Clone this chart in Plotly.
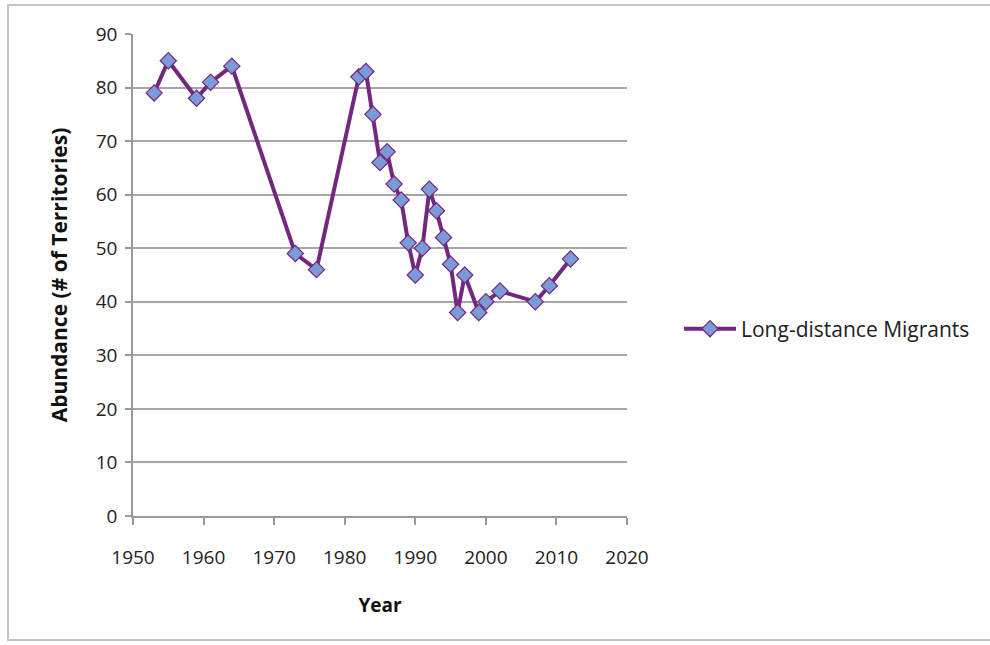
import plotly.graph_objects as go

# Survey years and territory counts
years = [1953, 1955, 1959, 1961, 1964, 1973, 1976, 1982, 1983, 1984, 1985, 1986,
         1987, 1988, 1989, 1990, 1991, 1992, 1993, 1994, 1995, 1996, 1997, 1999,
         2000, 2002, 2007, 2009, 2012]
territories = [79, 85, 78, 81, 84, 49, 46, 82, 83, 75, 66, 68,
               62, 59, 51, 45, 50, 61, 57, 52, 47, 38, 45, 38,
               40, 42, 40, 43, 48]
series_name = "Long-distance Migrants"
x_ticks = [1950, 1960, 1970, 1980, 1990, 2000, 2010, 2020]
y_ticks = [0, 10, 20, 30, 40, 50, 60, 70, 80, 90]

W, H = 990, 645
L, R, T, B = 133, 627, 34, 516  # plot area in pixels


def px_x(p):
    return (p - L) / (R - L)


def px_y(p):
    return (B - p) / (B - T)


LINE = "#74277f"
FILL = "#7b9bd8"
FONT = "Open Sans"

fig = go.Figure()
fig.add_trace(go.Scatter(
    x=years, y=territories, name=series_name, mode="lines+markers",
    line=dict(color=LINE, width=4),
    marker=dict(symbol="diamond", size=12.5, color=FILL,
                line=dict(color=LINE, width=1.2)),
    showlegend=True,
))

fig.update_layout(
    width=W, height=H,
    margin=dict(l=L, r=W - R, t=T, b=H - B),
    paper_bgcolor="white", plot_bgcolor="white",
    font=dict(family=FONT, size=18, color="#222222"),
    showlegend=True,
    legend=dict(x=px_x(679), y=px_y(329), xanchor="left", yanchor="middle",
                font=dict(size=21, color="#222222"), itemwidth=52,
                bgcolor="rgba(0,0,0,0)"),
    xaxis=dict(
        range=[1950, 2020], tickvals=x_ticks, showgrid=False,
        showline=True, linecolor="#9a9a9a", linewidth=1.5,
        ticks="outside", ticklen=7, tickcolor="#9a9a9a", tickwidth=1.5,
        ticklabelstandoff=16, tickfont=dict(size=19, color="#222222"),
        zeroline=False,
        title=dict(text="<b>Year</b>", font=dict(size=19, color="#111111"),
                   standoff=30),
    ),
    yaxis=dict(
        range=[0, 90], tickvals=y_ticks, showgrid=True,
        gridcolor="#a6a6a6", gridwidth=1.5,
        showline=True, linecolor="#9a9a9a", linewidth=1.5,
        ticks="outside", ticklen=6, tickcolor="#9a9a9a", tickwidth=1.5,
        ticklabelstandoff=4, tickfont=dict(size=19, color="#222222"),
        zeroline=False,
        title=dict(text="<b>Abundance (# of Territories)</b>",
                   font=dict(size=21, color="#111111"), standoff=22),
    ),
    shapes=[dict(type="rect", xref="paper", yref="paper",
                 x0=px_x(8), x1=px_x(992), y0=px_y(640), y1=px_y(5),
                 line=dict(color="#c4c4c4", width=2), layer="below")],
)

fig.write_html("out.html")
